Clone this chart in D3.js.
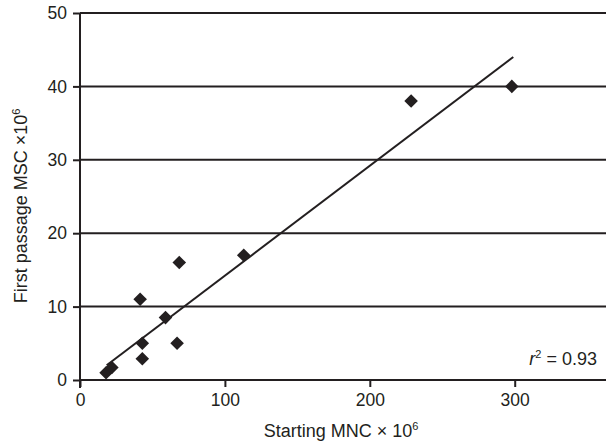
<!DOCTYPE html>
<html><head><meta charset="utf-8">
<script src="https://cdn.jsdelivr.net/npm/d3@7"></script>
<style>
html,body{margin:0;padding:0;background:#fff;}
svg{display:block;font-family:"Liberation Sans",Arial,Helvetica,sans-serif;}
</style></head>
<body>
<svg id="chart" width="606" height="443"></svg>
<script>
// Data
const mncX = [18, 22, 41.5, 43, 43, 59, 67, 68.5, 113, 228.5, 298];
const mscY = [1, 1.7, 11, 5, 2.9, 8.5, 5, 16, 17, 38, 40];
const fitX = [18.4, 299];
const fitY = [2.0, 44.0];
const xTicks = [0, 100, 200, 300];
const yTicks = [0, 10, 20, 30, 40, 50];
const rLabel = "0.93";

const svg = d3.select("#chart");
const ink = "#231f20";
const FS = 17.5;
const x = d3.scaleLinear().domain([0, 363]).range([80, 606]);
const y = d3.scaleLinear().domain([0, 50]).range([380, 13]);

// horizontal gridlines
svg.append("g").selectAll("line").data(yTicks.filter(d => d > 0)).join("line")
  .attr("x1", x(0)).attr("x2", 606)
  .attr("y1", d => y(d)).attr("y2", d => y(d))
  .attr("stroke", ink).attr("stroke-width", 2);

// x axis
const xAxis = svg.append("g").attr("transform", `translate(0,${y(0)})`)
  .call(d3.axisBottom(x).tickValues(xTicks).tickSize(7).tickPadding(7).tickFormat(d3.format("d")));
xAxis.select(".domain").attr("d", `M${x(0)},0H606`).attr("stroke", ink).attr("stroke-width", 2);
xAxis.selectAll(".tick line").attr("stroke", ink).attr("stroke-width", 2);
xAxis.selectAll("text").attr("fill", ink).attr("font-size", FS).attr("font-family", "Liberation Sans, Arial, sans-serif");

// y axis
const yAxis = svg.append("g").attr("transform", `translate(${x(0)},0)`)
  .call(d3.axisLeft(y).tickValues(yTicks).tickSize(7).tickPadding(6).tickFormat(d3.format("d")));
yAxis.select(".domain").attr("d", `M0,${y(50)}V${y(0) + 8}`).attr("stroke", ink).attr("stroke-width", 2);
yAxis.selectAll(".tick line").attr("stroke", ink).attr("stroke-width", 2);
yAxis.selectAll("text").attr("fill", ink).attr("font-size", FS).attr("font-family", "Liberation Sans, Arial, sans-serif");

// regression line
svg.append("line")
  .attr("x1", x(fitX[0])).attr("y1", y(fitY[0]))
  .attr("x2", x(fitX[1])).attr("y2", y(fitY[1]))
  .attr("stroke", ink).attr("stroke-width", 2);

// diamonds
const pts = mncX.map((v, i) => [v, mscY[i]]);
const sym = d3.symbol().type(d3.symbolSquare).size(92);
svg.append("g").selectAll("path").data(pts).join("path")
  .attr("d", sym)
  .attr("transform", d => `translate(${x(d[0])},${y(d[1])}) rotate(45)`)
  .attr("fill", ink);

// axis titles
const xt = svg.append("text").attr("x", 341).attr("y", 437).attr("text-anchor", "middle")
  .attr("font-size", 18).attr("fill", ink);
xt.append("tspan").text("Starting MNC \u00d7 10");
xt.append("tspan").attr("font-size", 11).attr("dy", -7).text("6");

const yt = svg.append("text").attr("transform", "translate(27,206) rotate(-90)").attr("text-anchor", "middle")
  .attr("font-size", 18).attr("fill", ink);
yt.append("tspan").text("First passage MSC \u00d710");
yt.append("tspan").attr("font-size", 11).attr("dy", -7).text("6");

// r^2 label
const rt = svg.append("text").attr("x", 597).attr("y", 365).attr("text-anchor", "end")
  .attr("font-size", 18).attr("fill", ink);
rt.append("tspan").attr("font-style", "italic").text("r");
rt.append("tspan").attr("font-size", 11).attr("dy", -7).text("2");
rt.append("tspan").attr("dy", 7).text(" = " + rLabel);
</script>
</body></html>
